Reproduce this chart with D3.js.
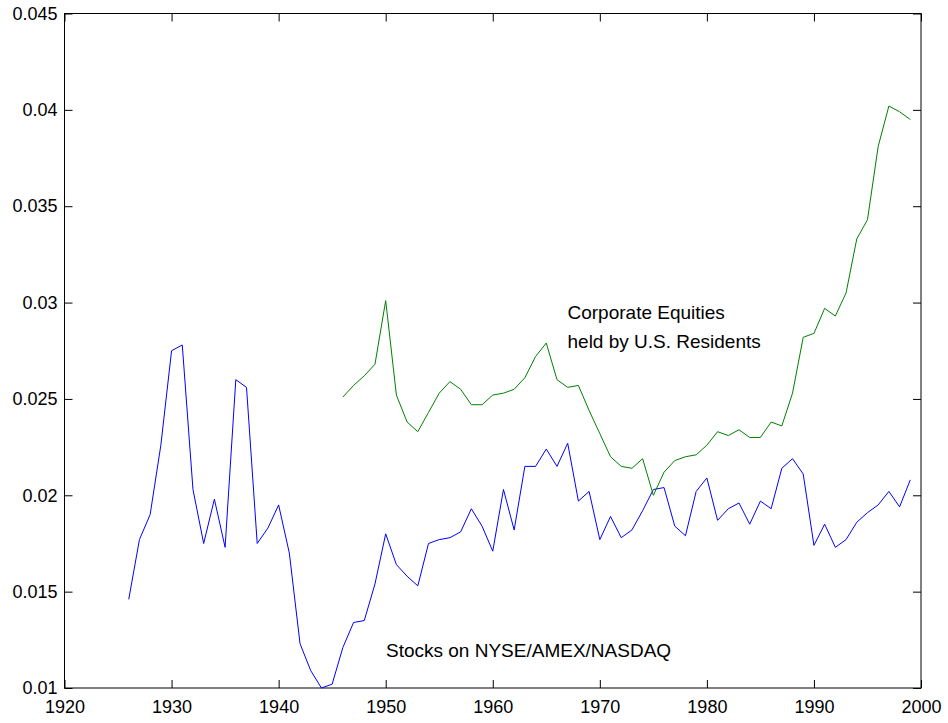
<!DOCTYPE html>
<html>
<head>
<meta charset="utf-8">
<script src="https://cdn.jsdelivr.net/npm/d3@7"></script>
<style>
  html, body { margin: 0; padding: 0; background: #fff; }
  svg { display: block; }
  text { font-family: "Liberation Sans", Arial, Helvetica, sans-serif; fill: #000; }
</style>
</head>
<body>
<script>
// ---- data ----
const stockYears = [1926,1927,1928,1929,1930,1931,1932,1933,1934,1935,1936,1937,1938,1939,1940,1941,1942,1943,1944,1945,1946,1947,1948,1949,1950,1951,1952,1953,1954,1955,1956,1957,1958,1959,1960,1961,1962,1963,1964,1965,1966,1967,1968,1969,1970,1971,1972,1973,1974,1975,1976,1977,1978,1979,1980,1981,1982,1983,1984,1985,1986,1987,1988,1989,1990,1991,1992,1993,1994,1995,1996,1997,1998,1999];
const stockValues = [0.0146,0.0177,0.0190,0.0226,0.0275,0.0278,0.0203,0.0175,0.0198,0.0173,0.0260,0.0256,0.0175,0.0183,0.0195,0.0170,0.0123,0.0109,0.0100,0.0102,0.0121,0.0134,0.0135,0.0154,0.0180,0.0164,0.0158,0.0153,0.0175,0.0177,0.0178,0.0181,0.0193,0.0184,0.0171,0.0203,0.0182,0.0215,0.0215,0.0224,0.0215,0.0227,0.0197,0.0202,0.0177,0.0189,0.0178,0.0182,0.0192,0.0203,0.0204,0.0184,0.0179,0.0202,0.0209,0.0187,0.0193,0.0196,0.0185,0.0197,0.0193,0.0214,0.0219,0.0211,0.0174,0.0185,0.0173,0.0177,0.0186,0.0191,0.0195,0.0202,0.0194,0.0208];

const equityYears = [1946,1947,1948,1949,1950,1951,1952,1953,1954,1955,1956,1957,1958,1959,1960,1961,1962,1963,1964,1965,1966,1967,1968,1969,1970,1971,1972,1973,1974,1975,1976,1977,1978,1979,1980,1981,1982,1983,1984,1985,1986,1987,1988,1989,1990,1991,1992,1993,1994,1995,1996,1997,1998,1999];
const equityValues = [0.0251,0.0257,0.0262,0.0268,0.0301,0.0252,0.0238,0.0233,0.0243,0.0253,0.0259,0.0255,0.0247,0.0247,0.0252,0.0253,0.0255,0.0261,0.0272,0.0279,0.0260,0.0256,0.0257,0.0244,0.0232,0.0220,0.0215,0.0214,0.0219,0.0200,0.0212,0.0218,0.0220,0.0221,0.0226,0.0233,0.0231,0.0234,0.0230,0.0230,0.0238,0.0236,0.0253,0.0282,0.0284,0.0297,0.0293,0.0305,0.0333,0.0343,0.0381,0.0402,0.0399,0.0395];

const xTickValues = [1920,1930,1940,1950,1960,1970,1980,1990,2000];
const xTickLabels = ["1920","1930","1940","1950","1960","1970","1980","1990","2000"];
const yTickValues = [0.01,0.015,0.02,0.025,0.03,0.035,0.04,0.045];
const yTickLabels = ["0.01","0.015","0.02","0.025","0.03","0.035","0.04","0.045"];

const annotEquities = ["Corporate Equities", "held by U.S. Residents"];
const annotStocks = "Stocks on NYSE/AMEX/NASDAQ";

// ---- layout ----
const W = 948, H = 723;
const L = 64.5, R = 921, T = 13.5, B = 688;

const svg = d3.select("body").append("svg").attr("width", W).attr("height", H);

const x = d3.scaleLinear().domain([1920, 2000]).range([L, R]);
const y = d3.scaleLinear().domain([0.01, 0.045]).range([B, T]);

const tickLen = 8;

// axes (ticks inward, mirrored on opposite sides)
const xBottom = d3.axisBottom(x).tickValues(xTickValues).tickSizeInner(-tickLen).tickSizeOuter(0)
  .tickPadding(12).tickFormat((d, i) => xTickLabels[i]);
const xTop = d3.axisTop(x).tickValues(xTickValues).tickSizeInner(-tickLen).tickSizeOuter(0).tickFormat("");
const yLeft = d3.axisLeft(y).tickValues(yTickValues).tickSizeInner(-tickLen).tickSizeOuter(0)
  .tickPadding(7).tickFormat((d, i) => yTickLabels[i]);
const yRight = d3.axisRight(y).tickValues(yTickValues).tickSizeInner(-tickLen).tickSizeOuter(0).tickFormat("");

const gxB = svg.append("g").attr("transform", `translate(0,${B})`).call(xBottom);
const gxT = svg.append("g").attr("transform", `translate(0,${T})`).call(xTop);
const gyL = svg.append("g").attr("transform", `translate(${L},0)`).call(yLeft);
const gyR = svg.append("g").attr("transform", `translate(${R},0)`).call(yRight);

[gxB, gxT, gyL, gyR].forEach(g => {
  g.selectAll(".domain").remove();
  g.selectAll(".tick line").attr("stroke", "#000").attr("stroke-width", 1);
  g.selectAll("text").style("font-size", "18px").attr("fill", "#000")
    .style("font-family", '"Liberation Sans", Arial, Helvetica, sans-serif');
});
gxB.selectAll("text").attr("dy", "0.71em");

// box
svg.append("rect").attr("x", L).attr("y", T).attr("width", R - L).attr("height", B - T)
  .attr("fill", "none").attr("stroke", "#000").attr("stroke-width", 1);

// lines
const line = d3.line().x(d => x(d[0])).y(d => y(d[1]));
const stockData = stockYears.map((yr, i) => [yr, stockValues[i]]);
const equityData = equityYears.map((yr, i) => [yr, equityValues[i]]);

svg.append("path").datum(stockData).attr("d", line)
  .attr("fill", "none").attr("stroke", "#0000ff").attr("stroke-width", 1);
svg.append("path").datum(equityData).attr("d", line)
  .attr("fill", "none").attr("stroke", "#008000").attr("stroke-width", 1);

// annotations
const eq = svg.append("text").attr("x", 567.5).attr("y", 319.3).style("font-size", "19px");
eq.append("tspan").attr("x", 567.5).attr("y", 319.3).text(annotEquities[0]);
eq.append("tspan").attr("x", 567.5).attr("y", 348.3).text(annotEquities[1]);

svg.append("text").attr("x", 386).attr("y", 656.5).style("font-size", "19px").text(annotStocks);
</script>
</body>
</html>
